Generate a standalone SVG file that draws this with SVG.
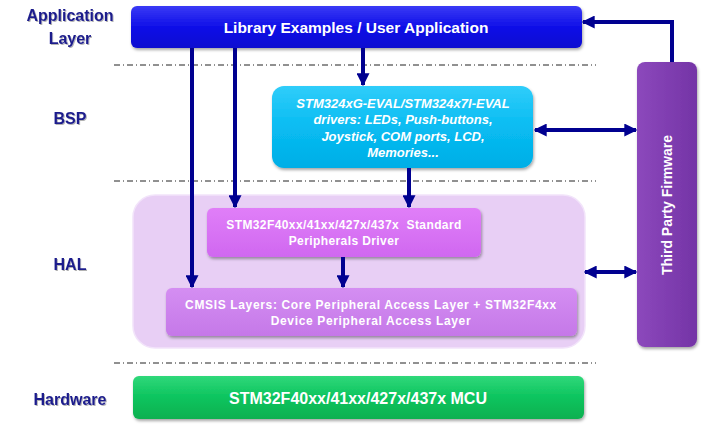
<svg xmlns="http://www.w3.org/2000/svg" width="703" height="441" viewBox="0 0 703 441">
<defs>
<style>
.lbl{font-family:"Liberation Sans",Arial,sans-serif;font-weight:bold;font-size:16px;fill:#1c1c8c;text-anchor:middle}
.wt{font-family:"Liberation Sans",Arial,sans-serif;font-weight:bold;fill:#fff;text-anchor:middle}
.dash{stroke:#222;stroke-width:1;stroke-dasharray:6 3 1 3;fill:none}
.conn{stroke:#000090;stroke-width:4;fill:none}
</style>
<linearGradient id="gBlue" x1="0" y1="0" x2="0" y2="1"><stop offset="0" stop-color="#3a3af5"/><stop offset="0.5" stop-color="#1010e8"/><stop offset="1" stop-color="#0808d0"/></linearGradient>
<linearGradient id="gCyan" x1="0" y1="0" x2="0" y2="1"><stop offset="0" stop-color="#30cdfa"/><stop offset="0.5" stop-color="#08bcf2"/><stop offset="1" stop-color="#02aee6"/></linearGradient>
<linearGradient id="gMag" x1="0" y1="0" x2="0" y2="1"><stop offset="0" stop-color="#e07ef8"/><stop offset="1" stop-color="#d068f0"/></linearGradient>
<linearGradient id="gCm" x1="0" y1="0" x2="0" y2="1"><stop offset="0" stop-color="#d48ef2"/><stop offset="1" stop-color="#c578e8"/></linearGradient>
<linearGradient id="gGreen" x1="0" y1="0" x2="0" y2="1"><stop offset="0" stop-color="#30d87a"/><stop offset="0.5" stop-color="#0cc45e"/><stop offset="1" stop-color="#08b050"/></linearGradient>
<linearGradient id="gPur" x1="0" y1="0" x2="1" y2="0"><stop offset="0" stop-color="#8c48bc"/><stop offset="1" stop-color="#7434a6"/></linearGradient>
<filter id="sh" x="-10%" y="-10%" width="120%" height="130%"><feDropShadow dx="1" dy="2" stdDeviation="1.5" flood-color="#000" flood-opacity="0.35"/></filter>
<filter id="tsh"><feDropShadow dx="1" dy="1" stdDeviation="0.6" flood-color="#000" flood-opacity="0.3"/></filter>
<marker id="ah" viewBox="0 0 10 10" refX="9" refY="5" markerWidth="13" markerHeight="13" markerUnits="userSpaceOnUse" orient="auto-start-reverse"><path d="M0,0 L10,5 L0,10 z" fill="#000090"/></marker>
</defs>
<g id="layer-labels">
<text class="lbl" x="70" y="21" filter="url(#tsh)">Application</text>
<text class="lbl" x="70" y="44" filter="url(#tsh)">Layer</text>
<text class="lbl" x="70" y="124" filter="url(#tsh)">BSP</text>
<text class="lbl" x="70" y="270" filter="url(#tsh)">HAL</text>
<text class="lbl" x="70" y="405" filter="url(#tsh)">Hardware</text>
</g>
<g id="separators">
<line class="dash" x1="114" y1="65" x2="596" y2="65"/>
<line class="dash" x1="114" y1="181" x2="596" y2="181"/>
<line class="dash" x1="114" y1="363" x2="596" y2="363"/>
</g>
<g id="hal-bg">
<rect x="133" y="195" width="452" height="153" rx="22" fill="#e8cff5" stroke="#f2e4fa" stroke-width="1.5"/>
</g>
<g id="app">
<rect x="131" y="6" width="451" height="42" rx="6" fill="url(#gBlue)" filter="url(#sh)"/>
<text class="wt" x="356" y="33" font-size="15.5">Library Examples / User Application</text>
</g>
<g id="bsp">
<rect x="272" y="86" width="261" height="82" rx="12" fill="url(#gCyan)" filter="url(#sh)"/>
<text class="wt" x="403" y="108" font-size="13" font-style="italic">STM324xG-EVAL/STM324x7I-EVAL</text>
<text class="wt" x="403" y="124" font-size="13" font-style="italic">drivers: LEDs, Push-buttons,</text>
<text class="wt" x="403" y="141" font-size="13" font-style="italic">Joystick, COM ports, LCD,</text>
<text class="wt" x="403" y="157" font-size="13" font-style="italic">Memories...</text>
</g>
<g id="spd">
<rect x="207" y="208" width="274" height="49" rx="6" fill="url(#gMag)" filter="url(#sh)"/>
<text class="wt" x="344" y="229" font-size="12" letter-spacing="0.4" xml:space="preserve">STM32F40xx/41xx/427x/437x  Standard</text>
<text class="wt" x="344" y="245" font-size="12" letter-spacing="0.4">Peripherals Driver</text>
</g>
<g id="cmsis">
<rect x="166" y="288" width="411" height="48" rx="6" fill="url(#gCm)" filter="url(#sh)"/>
<text class="wt" x="371" y="309" font-size="12" letter-spacing="0.65">CMSIS Layers: Core Peripheral Access Layer + STM32F4xx</text>
<text class="wt" x="371" y="325" font-size="12" letter-spacing="0.65">Device Peripheral Access Layer</text>
</g>
<g id="hw">
<rect x="133" y="376" width="451" height="43" rx="6" fill="url(#gGreen)" filter="url(#sh)"/>
<text class="wt" x="358" y="404" font-size="16">STM32F40xx/41xx/427x/437x MCU</text>
</g>
<g id="tpf">
<rect x="637" y="62" width="60" height="285" rx="8" fill="url(#gPur)" filter="url(#sh)"/>
<text class="wt" transform="translate(672,205) rotate(-90)" font-size="14">Third Party Firmware</text>
</g>
<g id="connectors">
<line class="conn" x1="192" y1="48" x2="192" y2="287" marker-end="url(#ah)"/>
<line class="conn" x1="235" y1="48" x2="235" y2="207" marker-end="url(#ah)"/>
<line class="conn" x1="363" y1="48" x2="363" y2="85" marker-end="url(#ah)"/>
<line class="conn" x1="409" y1="168" x2="409" y2="207" marker-end="url(#ah)"/>
<line class="conn" x1="343" y1="257" x2="343" y2="287" marker-end="url(#ah)"/>
<line class="conn" x1="535" y1="130" x2="636" y2="130" marker-start="url(#ah)" marker-end="url(#ah)"/>
<line class="conn" x1="585" y1="272" x2="636" y2="272" marker-start="url(#ah)" marker-end="url(#ah)"/>
<polyline class="conn" points="672,62 672,22 583,22" marker-end="url(#ah)"/>
</g>
</svg>
